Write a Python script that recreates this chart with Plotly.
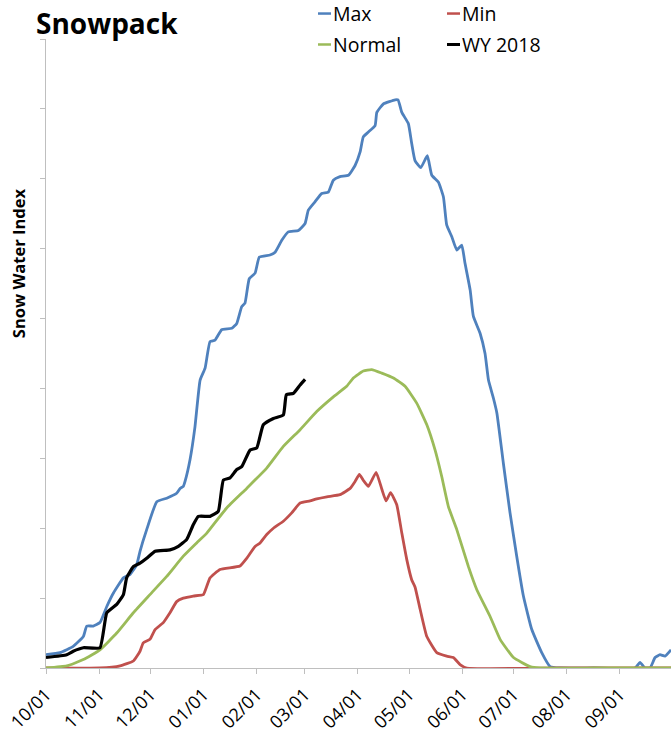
import plotly.graph_objects as go

# Day of water year (0 = 10/01) and Snow Water Index values
max_day = [0, 8.2, 15.9, 21.8, 23.8, 27.6, 31.5, 35.5, 39.3, 45.2, 49.1, 53.0, 54.9, 58.8, 64.7,
           70.5, 76.3, 78.3, 80.2, 81.2, 84.1, 87.0, 90.0, 92.9, 95.8, 98.7, 102.6, 108.5, 111.4,
           114.3, 116.2, 118.7, 122.1, 124.6, 130.8, 133.8, 137.7, 141.5, 147.4, 151.3, 153.2,
           157.1, 161.0, 164.9, 167.8, 171.7, 176.6, 180.5, 183.4, 185.3, 188.3, 192.2, 193.2,
           197.0, 203.9, 205.6, 207.8, 211.6, 213.6, 215.5, 218.9, 222.7, 225.3, 229.2, 232.1,
           234.0, 237.0, 239.9, 242.8, 244.7, 247.7, 249.6, 253.5, 256.4, 258.4, 261.3, 263.3,
           267.1, 271.0, 274.9, 278.8, 283.7, 289.5, 294.4, 300, 320, 344.0, 346.9, 349.8, 352.8,
           355.7, 358.6, 361.5, 365]
max_val = [1.9, 2.2, 3.1, 4.5, 6.0, 6.0, 6.5, 8.8, 10.7, 12.9, 13.4, 14.8, 16.7, 19.8, 23.8,
           24.3, 25.0, 25.7, 26.0, 26.7, 29.8, 34.5, 41.2, 42.9, 46.7, 46.9, 48.4, 48.6, 49.3,
           51.7, 52.2, 55.7, 56.5, 58.8, 59.1, 59.5, 61.2, 62.4, 62.6, 63.6, 65.5,
           66.7, 67.9, 68.1, 69.8, 70.3, 70.5, 71.9, 73.8, 76.0, 76.7, 77.6, 79.5,
           80.7, 81.3, 81.3, 79.5, 77.9, 75.0, 72.6, 71.6, 73.3, 70.5, 69.5, 67.4,
           63.4, 61.7, 59.8, 60.5, 57.9, 54.1, 50.3, 47.9, 45.0, 41.2, 38.6, 36.5,
           29.3, 22.2, 16.0, 10.3, 5.5, 2.2, 0.2, 0, 0, 0, 0.8, 0, 0,
           1.5, 1.9, 1.7, 2.6]

min_day = [0, 31.5, 43.2, 51.0, 54.9, 56.8, 60.7, 63.7, 68.5, 72.4, 76.3, 80.2, 86.0, 91.9,
           93.9, 95.8, 101.6, 113.3, 117.2, 122.1, 125.0, 128.9, 132.8, 138.6, 143.5, 148.4,
           154.2, 158.1, 164.0, 171.7, 177.6, 180.5, 183.0, 185.2, 188.3, 192.8, 196.1, 198.6,
           201.2, 204.8, 207.8, 210.7, 213.6, 215.5, 218.5, 222.4, 228.2, 234.0, 237.9, 241.8,
           245.7, 300, 365]
min_val = [0, 0, 0.3, 1.0, 2.4, 3.6, 4.1, 5.5, 6.5, 7.9, 9.5, 10.0, 10.3, 10.5,
           11.7, 12.9, 14.1, 14.6, 15.7, 17.4, 17.9, 19.1, 20.0, 21.0, 22.2, 23.6,
           23.9, 24.2, 24.5, 24.8, 25.7, 26.7, 27.7, 26.9, 26.0, 28.0, 25.6, 23.9,
           25.1, 23.4, 19.3, 15.5, 12.6, 11.6, 8.4, 4.5, 2.2, 1.7, 1.5, 0.5,
           0, 0, 0]

normal_day = [0, 12.1, 21.8, 31.5, 41.3, 51.0, 60.7, 70.5, 80.2, 88.0, 93.9, 105.5, 117.2,
              128.9, 138.6, 148.4, 158.1, 167.8, 175.6, 179.5, 185.3, 190.2, 196.1, 202.9,
              209.7, 216.5, 222.4, 227.2, 231.1, 235.0, 239.9, 246.7, 251.6, 259.3, 265.2,
              273.0, 282.7, 288.5, 320, 365]
normal_val = [0, 0.3, 1.2, 2.6, 5.0, 7.9, 10.5, 13.1, 16.0, 17.9, 19.3, 22.9, 25.7,
              28.6, 31.7, 34.1, 36.7, 38.8, 40.3, 41.5, 42.5, 42.7, 42.2, 41.5,
              40.3, 37.9, 34.8, 31.2, 27.4, 23.1, 19.8, 14.5, 11.2, 7.4, 4.1,
              1.5, 0.2, 0, 0, 0]

wy_day = [0, 12.1, 15.9, 21.8, 31.5, 35.5, 41.3, 45.2, 47.1, 51.0, 54.9, 58.8, 63.7, 72.4,
          77.3, 82.2, 86.0, 89.0, 95.8, 100.6, 103.6, 107.5, 111.4, 114.3, 119.2, 123.1,
          126.9, 132.8, 138.6, 140.4, 144.5, 148.4, 151.3]
wy_val = [1.5, 1.9, 2.4, 2.9, 2.9, 7.9, 9.1, 10.5, 12.9, 14.5, 15.0, 15.7, 16.7, 16.9,
          17.4, 18.4, 20.5, 21.7, 21.7, 22.4, 26.9, 27.2, 28.4, 28.8, 31.2, 31.5,
          34.8, 35.7, 36.2, 39.1, 39.3, 40.5, 41.3]

tick_days = [0, 31, 61, 92, 123, 151, 182, 212, 243, 273, 304, 335, 365]
tick_labels = ["10/01", "11/01", "12/01", "01/01", "02/01", "03/01", "04/01",
               "05/01", "06/01", "07/01", "08/01", "09/01", ""]

series = [
    ("Max", max_day, max_val, "#4F81BD", 2.8),
    ("Min", min_day, min_val, "#C0504D", 2.8),
    ("Normal", normal_day, normal_val, "#9BBB59", 2.8),
    ("WY 2018", wy_day, wy_val, "#000000", 3.2),
]

fig = go.Figure()
for name, xs, ys, color, w in series:
    fig.add_trace(go.Scatter(x=xs, y=ys, mode="lines", name=name,
                             line=dict(color=color, width=w, shape="spline", smoothing=0.4),
                             showlegend=False))

W, H = 671, 736
L, R, T, B = 46, 0, 38.5, 67.5
pw, ph = W - L - R, H - T - B

def px(x):
    return (x - L) / pw

def py(y):
    return (H - B - y) / ph

FONT = "Open Sans"
annotations = [
    dict(text="<b>Snowpack</b>", x=px(34), y=py(22), xref="paper", yref="paper",
         xanchor="left", yanchor="middle", showarrow=False,
         font=dict(family=FONT, size=28, color="black")),
    dict(text="<b>Snow Water Index</b>", x=px(18), y=py(263), xref="paper", yref="paper",
         xanchor="center", yanchor="middle", showarrow=False, textangle=-90,
         font=dict(family=FONT, size=16.5, color="black")),
]
legend_items = [("Max", 318, 13, "#4F81BD", 2.5), ("Min", 447, 13, "#C0504D", 2.5),
                ("Normal", 318, 44, "#9BBB59", 2.5), ("WY 2018", 447, 44, "#000000", 3)]
shapes = []
for name, lx, ly, color, w in legend_items:
    shapes.append(dict(type="line", xref="paper", yref="paper",
                       x0=px(lx), x1=px(lx + 13), y0=py(ly), y1=py(ly),
                       line=dict(color=color, width=w)))
    annotations.append(dict(text=name, x=px(lx + 13), y=py(ly), xref="paper", yref="paper",
                            xanchor="left", yanchor="middle", showarrow=False,
                            font=dict(family=FONT, size=19.5, color="black")))

fig.update_layout(
    width=W, height=H,
    margin=dict(l=L, r=R, t=T, b=B, pad=0, autoexpand=False),
    paper_bgcolor="white", plot_bgcolor="white",
    annotations=annotations, shapes=shapes,
    xaxis=dict(range=[0, 365], tickmode="array", tickvals=tick_days, ticktext=tick_labels,
               tickangle=-45, ticks="outside", ticklen=5, tickcolor="#BFBFBF",
               showline=True, linecolor="#BFBFBF", linewidth=1, showgrid=False,
               zeroline=False, automargin=False, ticklabelstandoff=3,
               tickfont=dict(family=FONT, size=18, color="black")),
    yaxis=dict(range=[0, 90], dtick=10, ticks="outside", ticklen=5, tickcolor="#BFBFBF",
               showticklabels=False, showline=True, linecolor="#BFBFBF", linewidth=1,
               showgrid=False, zeroline=False, automargin=False),
)

fig.write_html("out.html", config={"displayModeBar": False},
               post_script="document.body.style.margin='0';")
